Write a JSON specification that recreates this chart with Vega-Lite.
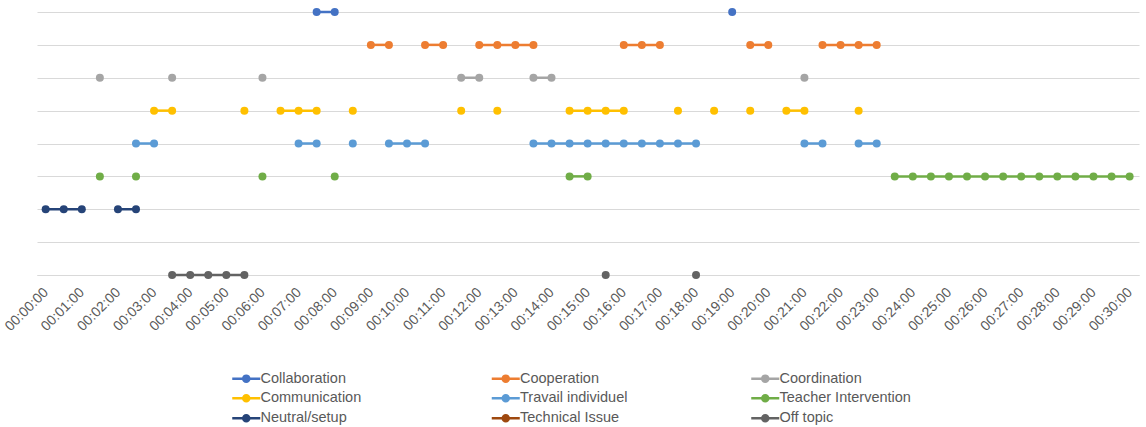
{
  "$schema": "https://vega.github.io/schema/vega-lite/v6.json",
  "width": 1102,
  "height": 263,
  "autosize": {"type": "none"},
  "padding": {"left": 37, "top": 12, "right": 7, "bottom": 152},
  "background": "white",
  "config": {
    "view": {"stroke": null},
    "font": "Liberation Sans"
  },
  "data": {
    "values": [
      {"cat": "Collaboration", "t": 7.5, "seg": 1},
      {"cat": "Collaboration", "t": 8, "seg": 1},
      {"cat": "Collaboration", "t": 19, "seg": 2},

      {"cat": "Cooperation", "t": 9, "seg": 1},
      {"cat": "Cooperation", "t": 9.5, "seg": 1},
      {"cat": "Cooperation", "t": 10.5, "seg": 2},
      {"cat": "Cooperation", "t": 11, "seg": 2},
      {"cat": "Cooperation", "t": 12, "seg": 3},
      {"cat": "Cooperation", "t": 12.5, "seg": 3},
      {"cat": "Cooperation", "t": 13, "seg": 3},
      {"cat": "Cooperation", "t": 13.5, "seg": 3},
      {"cat": "Cooperation", "t": 16, "seg": 4},
      {"cat": "Cooperation", "t": 16.5, "seg": 4},
      {"cat": "Cooperation", "t": 17, "seg": 4},
      {"cat": "Cooperation", "t": 19.5, "seg": 5},
      {"cat": "Cooperation", "t": 20, "seg": 5},
      {"cat": "Cooperation", "t": 21.5, "seg": 6},
      {"cat": "Cooperation", "t": 22, "seg": 6},
      {"cat": "Cooperation", "t": 22.5, "seg": 6},
      {"cat": "Cooperation", "t": 23, "seg": 6},

      {"cat": "Coordination", "t": 1.5, "seg": 1},
      {"cat": "Coordination", "t": 3.5, "seg": 2},
      {"cat": "Coordination", "t": 6, "seg": 3},
      {"cat": "Coordination", "t": 11.5, "seg": 4},
      {"cat": "Coordination", "t": 12, "seg": 4},
      {"cat": "Coordination", "t": 13.5, "seg": 5},
      {"cat": "Coordination", "t": 14, "seg": 5},
      {"cat": "Coordination", "t": 21, "seg": 6},

      {"cat": "Communication", "t": 3, "seg": 1},
      {"cat": "Communication", "t": 3.5, "seg": 1},
      {"cat": "Communication", "t": 5.5, "seg": 2},
      {"cat": "Communication", "t": 6.5, "seg": 3},
      {"cat": "Communication", "t": 7, "seg": 3},
      {"cat": "Communication", "t": 7.5, "seg": 3},
      {"cat": "Communication", "t": 8.5, "seg": 4},
      {"cat": "Communication", "t": 11.5, "seg": 5},
      {"cat": "Communication", "t": 12.5, "seg": 6},
      {"cat": "Communication", "t": 14.5, "seg": 7},
      {"cat": "Communication", "t": 15, "seg": 7},
      {"cat": "Communication", "t": 15.5, "seg": 7},
      {"cat": "Communication", "t": 16, "seg": 7},
      {"cat": "Communication", "t": 17.5, "seg": 8},
      {"cat": "Communication", "t": 18.5, "seg": 9},
      {"cat": "Communication", "t": 19.5, "seg": 10},
      {"cat": "Communication", "t": 20.5, "seg": 11},
      {"cat": "Communication", "t": 21, "seg": 11},
      {"cat": "Communication", "t": 22.5, "seg": 12},

      {"cat": "Travail individuel", "t": 2.5, "seg": 1},
      {"cat": "Travail individuel", "t": 3, "seg": 1},
      {"cat": "Travail individuel", "t": 7, "seg": 2},
      {"cat": "Travail individuel", "t": 7.5, "seg": 2},
      {"cat": "Travail individuel", "t": 8.5, "seg": 3},
      {"cat": "Travail individuel", "t": 9.5, "seg": 4},
      {"cat": "Travail individuel", "t": 10, "seg": 4},
      {"cat": "Travail individuel", "t": 10.5, "seg": 4},
      {"cat": "Travail individuel", "t": 13.5, "seg": 5},
      {"cat": "Travail individuel", "t": 14, "seg": 5},
      {"cat": "Travail individuel", "t": 14.5, "seg": 5},
      {"cat": "Travail individuel", "t": 15, "seg": 5},
      {"cat": "Travail individuel", "t": 15.5, "seg": 5},
      {"cat": "Travail individuel", "t": 16, "seg": 5},
      {"cat": "Travail individuel", "t": 16.5, "seg": 5},
      {"cat": "Travail individuel", "t": 17, "seg": 5},
      {"cat": "Travail individuel", "t": 17.5, "seg": 5},
      {"cat": "Travail individuel", "t": 18, "seg": 5},
      {"cat": "Travail individuel", "t": 21, "seg": 6},
      {"cat": "Travail individuel", "t": 21.5, "seg": 6},
      {"cat": "Travail individuel", "t": 22.5, "seg": 7},
      {"cat": "Travail individuel", "t": 23, "seg": 7},

      {"cat": "Teacher Intervention", "t": 1.5, "seg": 1},
      {"cat": "Teacher Intervention", "t": 2.5, "seg": 2},
      {"cat": "Teacher Intervention", "t": 6, "seg": 3},
      {"cat": "Teacher Intervention", "t": 8, "seg": 4},
      {"cat": "Teacher Intervention", "t": 14.5, "seg": 5},
      {"cat": "Teacher Intervention", "t": 15, "seg": 5},
      {"cat": "Teacher Intervention", "t": 23.5, "seg": 6},
      {"cat": "Teacher Intervention", "t": 24, "seg": 6},
      {"cat": "Teacher Intervention", "t": 24.5, "seg": 6},
      {"cat": "Teacher Intervention", "t": 25, "seg": 6},
      {"cat": "Teacher Intervention", "t": 25.5, "seg": 6},
      {"cat": "Teacher Intervention", "t": 26, "seg": 6},
      {"cat": "Teacher Intervention", "t": 26.5, "seg": 6},
      {"cat": "Teacher Intervention", "t": 27, "seg": 6},
      {"cat": "Teacher Intervention", "t": 27.5, "seg": 6},
      {"cat": "Teacher Intervention", "t": 28, "seg": 6},
      {"cat": "Teacher Intervention", "t": 28.5, "seg": 6},
      {"cat": "Teacher Intervention", "t": 29, "seg": 6},
      {"cat": "Teacher Intervention", "t": 29.5, "seg": 6},
      {"cat": "Teacher Intervention", "t": 30, "seg": 6},

      {"cat": "Neutral/setup", "t": 0, "seg": 1},
      {"cat": "Neutral/setup", "t": 0.5, "seg": 1},
      {"cat": "Neutral/setup", "t": 1, "seg": 1},
      {"cat": "Neutral/setup", "t": 2, "seg": 2},
      {"cat": "Neutral/setup", "t": 2.5, "seg": 2},

      {"cat": "Off topic", "t": 3.5, "seg": 1},
      {"cat": "Off topic", "t": 4, "seg": 1},
      {"cat": "Off topic", "t": 4.5, "seg": 1},
      {"cat": "Off topic", "t": 5, "seg": 1},
      {"cat": "Off topic", "t": 5.5, "seg": 1},
      {"cat": "Off topic", "t": 15.5, "seg": 2},
      {"cat": "Off topic", "t": 18, "seg": 3}
    ]
  },
  "encoding": {
    "x": {
      "field": "t",
      "type": "quantitative",
      "scale": {"domain": [-0.24, 30.26], "nice": false, "zero": false},
      "axis": {
        "title": null,
        "values": [0,1,2,3,4,5,6,7,8,9,10,11,12,13,14,15,16,17,18,19,20,21,22,23,24,25,26,27,28,29,30],
        "labelExpr": "'00:' + (datum.value < 10 ? '0' : '') + datum.value + ':00'",
        "labelAngle": -45,
        "labelAlign": "right",
        "labelBaseline": "middle",
        "labelFontSize": 14,
        "labelColor": "#595959",
        "labelPadding": 15,
        "labelDx": 3,
        "labelFlush": false,
        "labelOverlap": false,
        "ticks": false,
        "grid": false,
        "domain": true,
        "domainColor": "#D9D9D9"
      }
    },
    "y": {
      "field": "cat",
      "type": "nominal",
      "scale": {
        "type": "point",
        "padding": 0,
        "domain": ["Collaboration", "Cooperation", "Coordination", "Communication", "Travail individuel", "Teacher Intervention", "Neutral/setup", "Technical Issue", "Off topic"]
      },
      "axis": {
        "title": null,
        "labels": false,
        "ticks": false,
        "domain": false,
        "grid": true,
        "gridColor": "#D9D9D9",
        "gridWidth": 1
      }
    },
    "color": {
      "field": "cat",
      "type": "nominal",
      "scale": {
        "domain": ["Collaboration", "Cooperation", "Coordination", "Communication", "Travail individuel", "Teacher Intervention", "Neutral/setup", "Technical Issue", "Off topic"],
        "range": ["#4472C4", "#ED7D31", "#A5A5A5", "#FFC000", "#5B9BD5", "#70AD47", "#264478", "#9E480E", "#636363"]
      },
      "legend": {
        "title": null,
        "orient": "none",
        "legendX": 202,
        "legendY": 359,
        "direction": "horizontal",
        "columns": 3,
        "gridAlign": "all",
        "columnPadding": 94.5,
        "rowPadding": 3,
        "symbolType": "M-2.8,0H2.8M-0.6,0A0.6,0.6,0,1,0,0.6,0A0.6,0.6,0,1,0,-0.6,0Z",
        "symbolSize": 100,
        "symbolStrokeWidth": 2.5,
        "labelFontSize": 14.5,
        "labelColor": "#595959",
        "labelOffset": 7,
        "labelLimit": 220
      }
    }
  },
  "layer": [
    {
      "mark": {"type": "line", "strokeWidth": 2.5},
      "encoding": {"detail": {"field": "seg", "type": "nominal"}}
    },
    {
      "mark": {"type": "point", "filled": true, "shape": "circle", "size": 64, "opacity": 1}
    }
  ]
}
